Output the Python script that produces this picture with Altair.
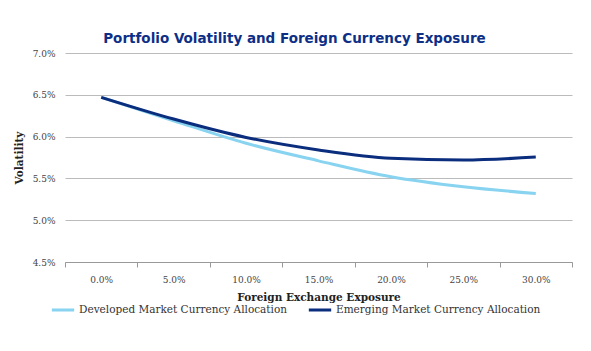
import altair as alt
import pandas as pd

exposure = ["0.0%", "5.0%", "10.0%", "15.0%", "20.0%", "25.0%", "30.0%"]
developed = [6.47, 6.19, 5.92, 5.71, 5.52, 5.40, 5.32]
emerging = [6.47, 6.21, 5.99, 5.84, 5.74, 5.72, 5.755]
series = ["Developed Market Currency Allocation", "Emerging Market Currency Allocation"]

rows = []
for i, e in enumerate(exposure):
    rows.append({"Exposure": e, "Series": series[0], "Vol": developed[i] / 100})
    rows.append({"Exposure": e, "Series": series[1], "Vol": emerging[i] / 100})
df = pd.DataFrame(rows)

serif = "DejaVu Serif"

chart = alt.Chart(df).mark_line(strokeWidth=3, interpolate="monotone").encode(
    x=alt.X("Exposure:N", sort=exposure,
            scale=alt.Scale(paddingInner=0, paddingOuter=0),
            axis=alt.Axis(title="Foreign Exchange Exposure", labelAngle=0,
                          tickBand="extent", domainColor="#999999", tickColor="#999999",
                          tickSize=5, labelFont=serif, labelFontSize=9, labelColor="#444444",
                          labelPadding=8, titleFont=serif, titleFontSize=10.5,
                          titleFontWeight="bold", titleColor="#222222", titlePadding=8,
                          grid=False)),
    y=alt.Y("Vol:Q",
            scale=alt.Scale(domain=[0.045, 0.07], nice=False, zero=False),
            axis=alt.Axis(title="Volatility", format=".1%", values=[0.045, 0.05, 0.055, 0.06, 0.065, 0.07],
                          domain=False, ticks=False, gridColor="#bbbbbb", gridWidth=1,
                          labelFont=serif, labelFontSize=9, labelColor="#444444",
                          labelPadding=10, titleFont=serif, titleFontSize=10.5,
                          titleFontWeight="bold", titleColor="#222222", titlePadding=8)),
    color=alt.Color("Series:N", sort=series,
                    scale=alt.Scale(domain=series, range=["#87d3f0", "#0b2d7d"]),
                    legend=alt.Legend(title=None, orient="none", direction="horizontal",
                                      legendX=-15, legendY=244,
                                      symbolType="stroke", symbolStrokeWidth=3, symbolSize=500,
                                      labelFont=serif, labelFontSize=10.5, labelColor="#333333",
                                      labelLimit=400, columnPadding=14, labelOffset=3)),
).properties(
    width=507, height=209,
    title=alt.TitleParams("Portfolio Volatility and Foreign Currency Exposure",
                          font="DejaVu Sans", fontSize=13.5, fontWeight="bold",
                          color="#0d2f86", anchor="middle", offset=4, dx=-24),
    autosize=alt.AutoSizeParams(type="none"),
    padding={"left": 65, "top": 53, "right": 19, "bottom": 89},
).configure_view(stroke=None)

chart.save("out.html", embed_options={"renderer": "svg", "actions": False})
